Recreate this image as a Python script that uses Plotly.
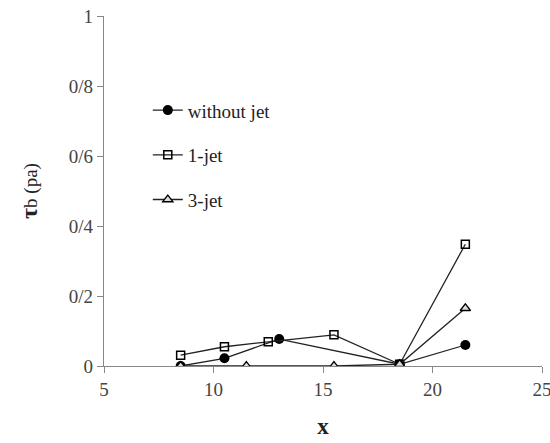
import plotly.graph_objects as go

x_wo = [8.5, 10.5, 13.0, 18.5, 21.5]
y_wo = [0.0, 0.022, 0.077, 0.005, 0.06]

x_1 = [8.5, 10.5, 12.5, 15.5, 18.5, 21.5]
y_1 = [0.031, 0.055, 0.069, 0.089, 0.005, 0.348]

x_3 = [8.5, 11.5, 15.5, 18.5, 21.5]
y_3 = [0.0, 0.0, 0.0, 0.005, 0.165]

y_ticks = [0, 0.2, 0.4, 0.6, 0.8, 1.0]
y_ticklabels = ["0", "0/2", "0/4", "0/6", "0/8", "1"]
x_ticks = [5, 10, 15, 20, 25]

serif = "'Liberation Serif', 'Times New Roman', serif"

fig = go.Figure()
fig.add_trace(go.Scatter(x=x_wo, y=y_wo, name="without jet", mode="lines+markers",
                         line=dict(color="#222", width=1.3), legendgroup="a",
                         marker=dict(symbol="circle", size=10, color="black")))
fig.add_trace(go.Scatter(x=x_1, y=y_1, name="1-jet", mode="lines+markers",
                         line=dict(color="#222", width=1.3), legendgroup="b",
                         marker=dict(symbol="square-open", size=8, color="black",
                                     line=dict(width=1.5))))
fig.add_trace(go.Scatter(x=x_3, y=y_3, name="3-jet", mode="lines+markers",
                         line=dict(color="#222", width=1.3), legendgroup="c",
                         marker=dict(symbol="triangle-up", size=9, color="#ddd",
                                     line=dict(width=1.3, color="black"))))

fig.update_layout(
    width=550, height=443,
    margin=dict(l=104, r=8, t=16, b=77),
    paper_bgcolor="white", plot_bgcolor="white",
    font=dict(family=serif, size=18, color="#333"),
    showlegend=True,
    legend=dict(x=0.1, y=0.785, xanchor="left", yanchor="top",
                bgcolor="rgba(0,0,0,0)", tracegroupgap=17,
                font=dict(family=serif, size=19, color="#222")),
    xaxis=dict(range=[5, 25], tickvals=x_ticks, showgrid=False, zeroline=False,
               showline=True, linecolor="#888", linewidth=1.2,
               ticks="outside", ticklen=6, tickcolor="#888",
               ticklabeloverflow="allow", automargin=False,
               tickfont=dict(family=serif, size=19, color="#444"),
               title=dict(text="<b>x</b>", font=dict(family=serif, size=23, color="#222"),
                          standoff=18)),
    yaxis=dict(range=[0, 1], tickvals=y_ticks, ticktext=y_ticklabels, showgrid=False,
               zeroline=False, showline=True, linecolor="#888", linewidth=1.2,
               ticks="outside", ticklen=6, tickcolor="#888", automargin=False,
               tickfont=dict(family=serif, size=19, color="#444"),
               title=dict(text="<b><span style='font-size:24px'>τ</span></b>b (pa)",
                          font=dict(family=serif, size=19, color="#222"),
                          standoff=26)),
)

fig.write_html("out.html")
